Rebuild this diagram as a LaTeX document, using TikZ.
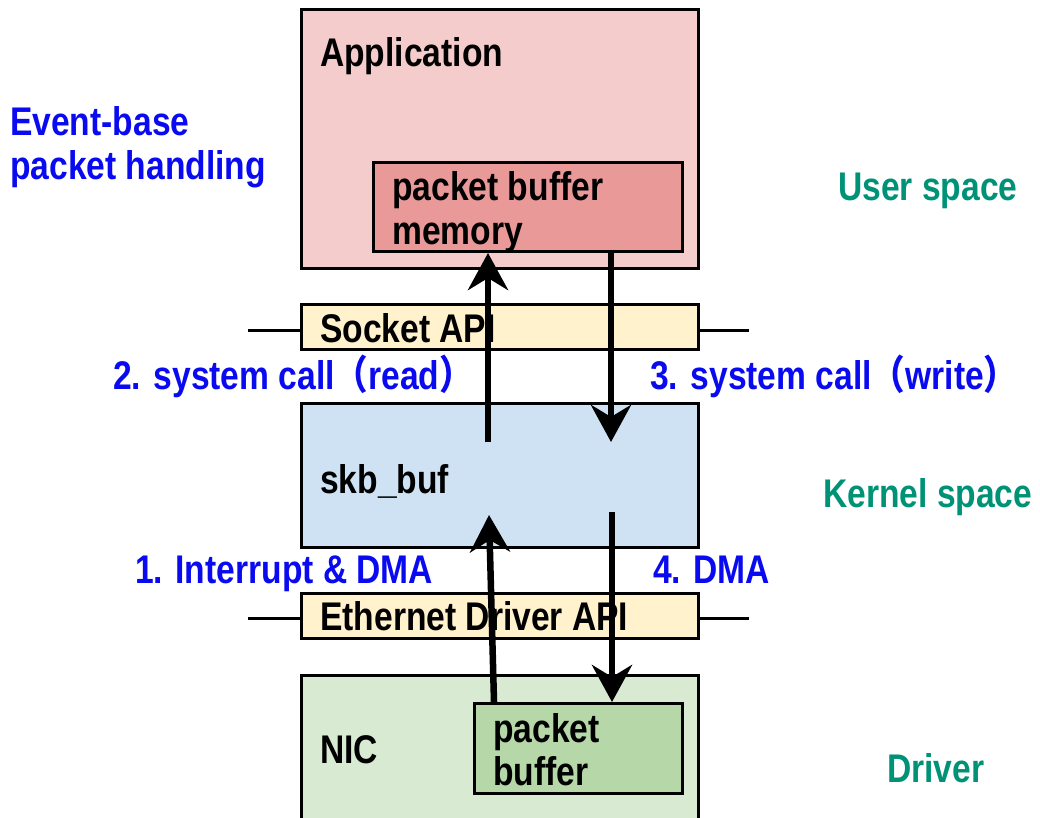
\documentclass[tikz,border=0pt]{standalone}
\usepackage{fontspec}
\usetikzlibrary{arrows.meta}
\newfontfamily\lblfont[FakeStretch=0.84]{Liberation Sans Bold}
\newfontfamily\cjkfont[FakeStretch=0.84]{Noto Sans CJK JP}
\newcommand{\fw}[1]{{\cjkfont\bfseries #1}}
\definecolor{appfill}{RGB}{244,204,204}
\definecolor{memfill}{RGB}{234,153,153}
\definecolor{apifill}{RGB}{255,242,204}
\definecolor{kernfill}{RGB}{207,226,243}
\definecolor{nicfill}{RGB}{217,234,211}
\definecolor{pbfill}{RGB}{182,215,168}
\definecolor{stepblue}{RGB}{10,10,240}
\definecolor{layerteal}{RGB}{0,146,118}
\tikzset{
  box/.style={draw=black, line width=3pt, rectangle, inner sep=0pt, anchor=north west},
  txt/.style={font=\lblfont\fontsize{40}{44}\selectfont, anchor=base west, inner sep=0pt},
  steplabel/.style={txt, text=stepblue},
  layerlabel/.style={txt, text=layerteal},
  flow/.style={line width=6.5pt, -{Stealth[length=37pt, width=40pt, inset=12pt]}},
  apiline/.style={line width=3pt},
}
\begin{document}
\begin{tikzpicture}[x=1pt, y=-1pt]
\clip (0,0) rectangle (1040,818);
\useasboundingbox (0,0) rectangle (1040,818);

% user space
\node[box, fill=appfill, minimum width=397pt, minimum height=259pt] (app) at (300,8) {};
\node[box, fill=memfill, minimum width=309pt, minimum height=89pt] (mem) at (372,161) {};
\node[txt] (apptext) at (320,67) {Application};
\node[txt] (memtext1) at (392,201) {packet buffer};
\node[txt] (memtext2) at (392,244) {memory};

% socket API layer
\node[box, fill=apifill, minimum width=397pt, minimum height=45pt] (sock) at (300,303) {};
\coordinate (sockl) at (248,330);
\coordinate (sockr) at (749,330);
\draw[apiline] (sockl) -- (sockl -| sock.west);
\draw[apiline] (sock.east |- sockr) -- (sockr);
\node[txt] (socktext) at (320,342) {Socket API};

% kernel space
\node[box, fill=kernfill, minimum width=397pt, minimum height=144pt] (kern) at (300,402) {};
\node[txt] (skbtext) at (320,493) {skb\_buf};

% ethernet driver API layer
\node[box, fill=apifill, minimum width=397pt, minimum height=45pt] (eth) at (300,592) {};
\coordinate (ethl) at (248,618);
\coordinate (ethr) at (749,618);
\draw[apiline] (ethl) -- (ethl -| eth.west);
\draw[apiline] (eth.east |- ethr) -- (ethr);
\node[txt] (ethtext) at (320,630) {Ethernet Driver API};

% driver
\node[box, fill=nicfill, minimum width=397pt, minimum height=170pt] (nic) at (300,674) {};
\node[box, fill=pbfill, minimum width=208pt, minimum height=90pt] (pb) at (473,702) {};
\node[txt] (nictext) at (320,763) {NIC};
\node[txt] (pbtext1) at (493,742) {packet};
\node[txt] (pbtext2) at (493,785) {buffer};

% data flow
\coordinate (readfrom) at (488,442);
\draw[flow] (readfrom) -- (readfrom |- mem.south);
\coordinate (writex) at (611,442);
\draw[flow] (writex |- mem.south) -- (writex);
\coordinate (irqx) at (494,515);
\coordinate (irqto) at (489,515);
\draw[flow] (irqx |- pb.north) -- (irqto);
\coordinate (dmafrom) at (612,512);
\draw[flow] (dmafrom) -- (dmafrom |- pb.north);

% step labels
\node[steplabel] (evt1) at (10,136) {Event-base};
\node[steplabel] (evt2) at (10,180) {packet handling};
\node[steplabel] (s2) at (113,389) {2. system call\fw{（}read\fw{）}};
\node[steplabel] (s3) at (650,389) {3. system call\fw{（}write\fw{）}};
\node[steplabel] (s1) at (135,583) {1. Interrupt \& DMA};
\node[steplabel] (s4) at (653,583) {4. DMA};

% layer labels
\node[layerlabel] (user) at (838,201) {User space};
\node[layerlabel] (kernel) at (823,507) {Kernel space};
\node[layerlabel] (driver) at (887,782) {Driver};
\end{tikzpicture}
\end{document}
